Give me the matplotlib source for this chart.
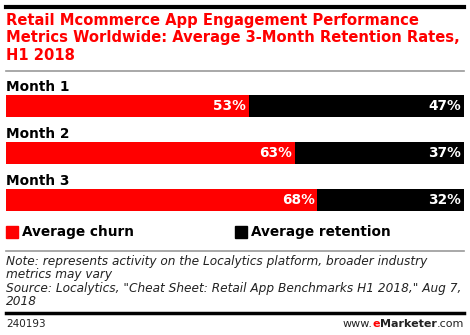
import matplotlib
matplotlib.use('Agg')
import matplotlib.pyplot as plt
from matplotlib.patches import Rectangle

months = ['Month 1', 'Month 2', 'Month 3']
churn = [53, 63, 68]
retention = [47, 37, 32]
series_names = ['Average churn', 'Average retention']

title = ('Retail Mcommerce App Engagement Performance\n'
         'Metrics Worldwide: Average 3-Month Retention Rates,\n'
         'H1 2018')
note = ('Note: represents activity on the Localytics platform, broader industry\n'
        'metrics may vary\n'
        'Source: Localytics, "Cheat Sheet: Retail App Benchmarks H1 2018," Aug 7,\n'
        '2018')

RED = '#ff0000'
BLACK = '#000000'
W, H = 470, 335

plt.rcParams['font.family'] = 'DejaVu Sans'
fig = plt.figure(figsize=(W / 100, H / 100), dpi=100)


def fx(px):
    return px / W


def fy(py):
    return 1 - py / H


def hline(py, color, lw):
    fig.add_artist(plt.Line2D([fx(6), fx(464)], [fy(py), fy(py)], color=color, lw=lw,
                              transform=fig.transFigure))


hline(7, BLACK, 3)
fig.text(fx(6), fy(13), title, color=RED, fontsize=10.65, fontweight='bold',
         va='top', ha='left', linespacing=1.19)
hline(71, '#999999', 1.2)

# bars
top_px, bot_px = 95, 211
ax = fig.add_axes([fx(6), fy(bot_px), fx(464) - fx(6), (bot_px - top_px) / H])
pitch = 47.5
bh = 22 / pitch
ypos = list(range(len(months)))
ax.barh(ypos, churn, height=bh, color=RED, edgecolor='none')
ax.barh(ypos, retention, left=churn, height=bh, color=BLACK, edgecolor='none')
ax.set_xlim(0, 100)
ax.set_ylim(2 + bh / 2, -bh / 2)
ax.axis('off')
for i, m in enumerate(months):
    ax.text(0, i - 0.4, m, fontsize=9.8, fontweight='bold', va='center', ha='left',
            clip_on=False)
    ax.text(churn[i] - 0.6, i, '%d%%' % churn[i], color='white', fontsize=9.8,
            fontweight='bold', va='center', ha='right')
    ax.text(99.4, i, '%d%%' % retention[i], color='white', fontsize=9.8,
            fontweight='bold', va='center', ha='right')

# legend
for x0, col, name in [(6, RED, series_names[0]), (235, BLACK, series_names[1])]:
    fig.add_artist(Rectangle((fx(x0), fy(238)), fx(12), 12 / H, color=col,
                             transform=fig.transFigure))
    fig.text(fx(x0 + 16), fy(232), name, fontsize=9.8, fontweight='bold',
             va='center', ha='left')

hline(251, '#999999', 1.2)
fig.text(fx(6), fy(255), note, fontsize=8.7, style='italic', color='#222222',
         va='top', ha='left', linespacing=1.04)
hline(313, BLACK, 2.5)
fig.text(fx(6), fy(324), '240193', fontsize=7.5, color='#222222', va='center', ha='left')
fig.text(fx(464), fy(324), 'www.', fontsize=8, color='#222222', va='center', ha='right')

# eMarketer footer assembled from pieces
r = fig.canvas.get_renderer()
t3 = fig.text(fx(464), fy(324), '.com', fontsize=8, color='#222222', va='center', ha='right')
w3 = t3.get_window_extent(r).width
t2 = fig.text(fx(464) - w3 / W, fy(324), 'Marketer', fontsize=8, fontweight='bold',
              color='#222222', va='center', ha='right')
w2 = t2.get_window_extent(r).width
t1 = fig.text(fx(464) - (w3 + w2) / W, fy(324), 'e', fontsize=8, fontweight='bold',
              color=RED, va='center', ha='right')
w1 = t1.get_window_extent(r).width
fig.texts[-4].set_position((fx(464) - (w3 + w2 + w1) / W, fy(324)))

fig.savefig('out.png', dpi=100)
